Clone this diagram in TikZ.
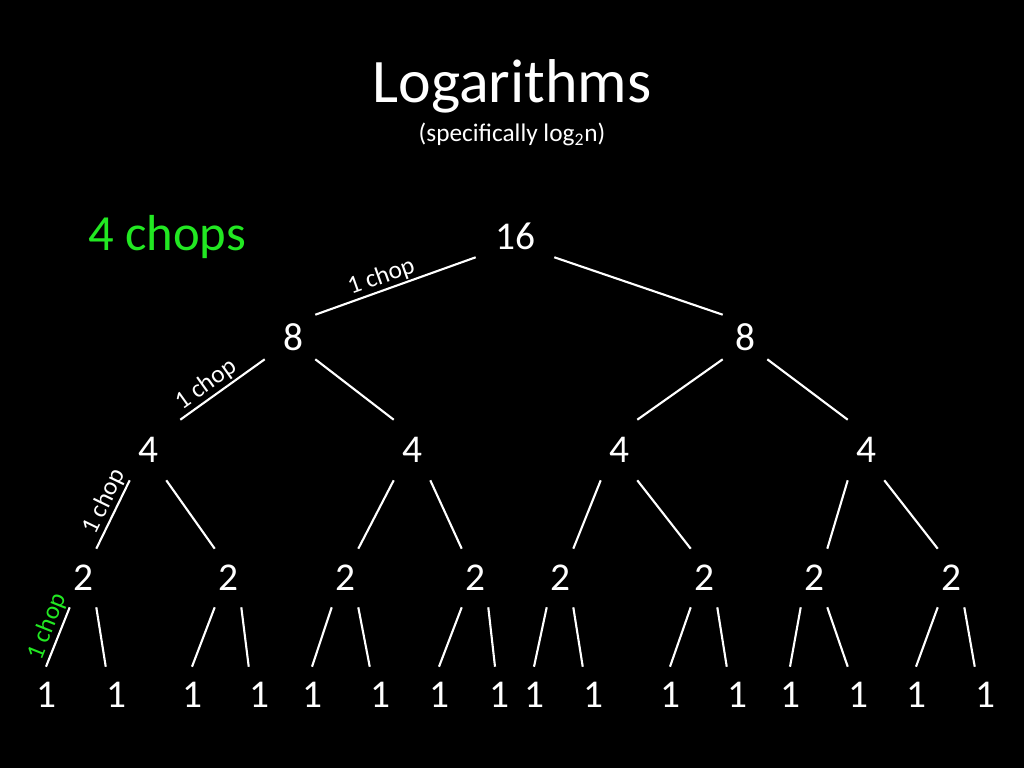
\documentclass[tikz,border=0pt]{standalone}
\usepackage{fontspec}
\setmainfont{Carlito}
\usepackage{tikz}
\definecolor{ChopGreen}{HTML}{22E822}
\tikzset{
  num/.style={text=white,inner sep=0pt,font=\fontsize{28}{30}\selectfont},
  L0/.style={num,minimum width=1.95cm,minimum height=1.05cm},
  L1/.style={num,minimum width=1.1cm,minimum height=1.1cm},
  L2/.style={num,minimum width=0.9cm,minimum height=1.5cm},
  L3/.style={num,minimum width=0.65cm,minimum height=1.45cm},
  L4/.style={num,minimum height=1.4cm},
  ln/.style={draw=white,line width=1.5pt},
  chop/.style={sloped,above,inner sep=1pt,text=white,
               font=\fontsize{18}{20}\selectfont}
}

\begin{document}
\begin{tikzpicture}[x=0.025cm,y=-0.025cm]
  \fill[black] (0,0) rectangle (1024,768);

  \node[text=white,anchor=base,font=\fontsize{44}{48}\selectfont] (title) at (512,103) {Logarithms};
  \node[text=white,anchor=base,font=\fontsize{18}{20}\selectfont] (sub) at (512,142) {(specifically log\textsubscript{2}n)};
  \node[text=ChopGreen,anchor=base,font=\fontsize{36}{40}\selectfont] (total) at (167,250) {4 chops};

  \node[L0] (n16) at (515,236) {16};
  \node[L1] (n8a) at (293,337) {8};
  \node[L1] (n8b) at (745,337) {8};
  \node[L2] (n4a) at (148,450) {4};
  \node[L2] (n4b) at (412,450) {4};
  \node[L2] (n4c) at (619,450) {4};
  \node[L2] (n4d) at (866,450) {4};
  \node[L3] (n2a) at (83,578) {2};
  \node[L3] (n2b) at (228,578) {2};
  \node[L3] (n2c) at (345,578) {2};
  \node[L3] (n2d) at (475,578) {2};
  \node[L3] (n2e) at (560,578) {2};
  \node[L3] (n2f) at (704,578) {2};
  \node[L3] (n2g) at (814,578) {2};
  \node[L3] (n2h) at (951,578) {2};
  \node[L4] (n1a) at (46,695) {1};
  \node[L4] (n1b) at (116,695) {1};
  \node[L4] (n1c) at (192,695) {1};
  \node[L4] (n1d) at (259,695) {1};
  \node[L4] (n1e) at (312,695) {1};
  \node[L4] (n1f) at (380,695) {1};
  \node[L4] (n1g) at (439,695) {1};
  \node[L4] (n1h) at (499,695) {1};
  \node[L4] (n1i) at (534,695) {1};
  \node[L4] (n1j) at (593,695) {1};
  \node[L4] (n1k) at (670,695) {1};
  \node[L4] (n1l) at (737,695) {1};
  \node[L4] (n1m) at (790,695) {1};
  \node[L4] (n1n) at (858,695) {1};
  \node[L4] (n1o) at (916,695) {1};
  \node[L4] (n1p) at (985,695) {1};

  % 16 -> 8
  \draw[ln] (n16.south west) -- node[chop,pos=0.56] {1 chop} (n8a.north east);
  \draw[ln] (n16.south east) -- (n8b.north west);
  % 8 -> 4
  \draw[ln] ([xshift=-0.15cm]n8a.south west) -- node[chop,pos=0.6] {1 chop} ([xshift=0.35cm]n4a.north east);
  \draw[ln] (n8a.south east) -- (n4b.north west);
  \draw[ln] (n8b.south west) -- (n4c.north east);
  \draw[ln] (n8b.south east) -- (n4d.north west);
  % 4 -> 2
  \draw[ln] (n4a.south west) -- node[chop,pos=0.4] {1 chop} (n2a.north east);
  \draw[ln] (n4a.south east) -- (n2b.north west);
  \draw[ln] (n4b.south west) -- (n2c.north east);
  \draw[ln] (n4b.south east) -- (n2d.north west);
  \draw[ln] (n4c.south west) -- (n2e.north east);
  \draw[ln] (n4c.south east) -- (n2f.north west);
  \draw[ln] (n4d.south west) -- (n2g.north east);
  \draw[ln] (n4d.south east) -- (n2h.north west);
  % 2 -> 1
  \draw[ln] (n2a.south west) -- node[chop,pos=0.41,text=ChopGreen] {1 chop} (n1a.north);
  \draw[ln] (n2a.south east) -- (n1b.north west);
  \draw[ln] (n2b.south west) -- (n1c.north);
  \draw[ln] (n2b.south east) -- (n1d.north west);
  \draw[ln] (n2c.south west) -- (n1e.north);
  \draw[ln] (n2c.south east) -- (n1f.north west);
  \draw[ln] (n2d.south west) -- (n1g.north);
  \draw[ln] (n2d.south east) -- ([xshift=-0.1cm]n1h.north);
  \draw[ln] (n2e.south west) -- (n1i.north);
  \draw[ln] (n2e.south east) -- (n1j.north west);
  \draw[ln] (n2f.south west) -- (n1k.north);
  \draw[ln] (n2f.south east) -- (n1l.north west);
  \draw[ln] (n2g.south west) -- (n1m.north);
  \draw[ln] (n2g.south east) -- (n1n.north west);
  \draw[ln] (n2h.south west) -- (n1o.north);
  \draw[ln] (n2h.south east) -- (n1p.north west);
\end{tikzpicture}
\end{document}
